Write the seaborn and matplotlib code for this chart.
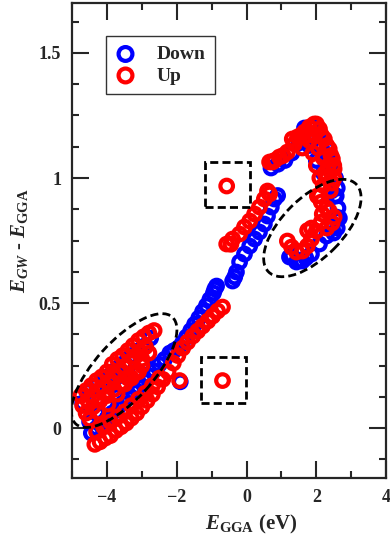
import numpy as np
import pandas as pd
import matplotlib
matplotlib.use("Agg")
import matplotlib.pyplot as plt
import seaborn as sns
from matplotlib.patches import Rectangle, Ellipse
from matplotlib.transforms import ScaledTranslation
from matplotlib.ticker import MultipleLocator, FormatStrFormatter

# ---- data (eV) ----
down_x = [
    # lower band
    -4.45, -4.3, -4.15, -4.0, -3.85, -3.7, -3.55, -3.4, -3.25, -3.1, -2.95, -2.8,
    -2.65, -2.5, -2.35, -2.2, -2.08, -1.96, -1.9, -1.84, -1.72, -1.6, -1.49,
    -1.37, -1.26, -1.15, -1.05, -0.95, -0.91, -0.86,
    # upper cluster (lower left)
    -4.7, -4.5, -4.27, -3.98, -3.72, -3.5, -3.3, -3.1, -2.95,
    -4.5, -4.3, -4.1, -3.9, -3.7, -3.5, -3.3, -3.1, -2.9, -2.75,
    # middle line
    -0.4, -0.34, -0.29, -0.2, -0.06, 0.09, 0.23, 0.37, 0.51, 0.6, 0.71, 0.8, 0.89,
    # upper arc
    0.7, 0.9, 1.1, 1.3, 1.5, 1.66, 1.85, 1.95, 2.1, 2.3, 2.45, 2.55, 2.6, 2.55,
    1.8, 2.0, 2.2, 2.35, 2.15, 1.95,
    # hook
    1.23, 1.3, 1.43, 1.5, 1.6, 1.7, 1.86, 2.09, 2.29, 2.46, 2.57, 2.62, 2.57,
    2.43, 2.66, 2.6, 2.5,
]
down_y = [
    -0.02, 0.0, 0.02, 0.04, 0.06, 0.08, 0.1, 0.12, 0.145, 0.165, 0.19, 0.21,
    0.23, 0.255, 0.275, 0.3, 0.31, 0.32, 0.185, 0.34, 0.365, 0.39, 0.415,
    0.44, 0.466, 0.49, 0.515, 0.54, 0.556, 0.568,
    0.1, 0.025, 0.055, 0.088, 0.125, 0.165, 0.19, 0.22, 0.26,
    0.15, 0.17, 0.19, 0.21, 0.24, 0.26, 0.29, 0.31, 0.33, 0.36,
    0.588, 0.604, 0.624, 0.664, 0.696, 0.728, 0.756, 0.784, 0.816, 0.848, 0.884, 0.916, 0.93,
    1.04, 1.055, 1.07, 1.1, 1.14, 1.2, 1.2, 1.21, 1.18, 1.12, 1.06, 1.0, 0.96, 0.93,
    1.13, 1.07, 1.02, 1.04, 1.12, 1.16,
    0.684, 0.69, 0.664, 0.67, 0.668, 0.68, 0.696, 0.736, 0.768, 0.804, 0.844, 0.88, 0.928,
    0.948, 0.84, 0.8, 0.78,
]
up_x = [
    # lower band
    -4.35, -4.2, -4.05, -3.9, -3.75, -3.6, -3.45, -3.3, -3.15, -3.0, -2.85, -2.7,
    -2.55, -2.4, -2.25, -2.1, -1.97, -1.83, -1.69, -1.54, -1.4, -1.26, -1.11,
    -0.97, -0.83, -0.69, -1.92,
    -4.3, -4.1, -3.9, -3.7, -3.5, -3.3, -3.1, -2.9, -2.7, -2.5,
    # upper cluster (lower left)
    -4.75, -4.6, -4.45, -4.3, -4.15, -4.0, -3.85, -3.7, -3.55, -3.4, -3.25,
    -3.1, -2.95, -2.8, -2.65,
    -4.7, -4.55, -4.4, -4.25, -4.1, -3.95, -3.8, -3.65, -3.5, -3.35, -3.2, -3.05, -2.9,
    -4.6, -4.4, -4.2, -4.0, -3.8, -3.6, -3.4, -3.2, -3.0, -2.8,
    -4.49, -4.26, -3.97, -3.71, -3.49, -3.3, -3.1, -3.0,
    # middle line
    -0.57, -0.45, -0.4, -0.2, -0.06, 0.09, 0.23, 0.37, 0.51, 0.6, 0.66,
    # isolated points in the boxes
    -0.57, -0.69,
    # upper arc
    0.66, 0.74, 0.8, 0.94, 1.05, 1.17, 1.31, 1.37, 1.46, 1.55, 1.66, 1.8, 1.94,
    2.0, 2.09, 2.15, 2.23, 2.3, 2.37, 2.42, 2.46, 2.5, 2.51, 2.51, 2.45, 2.4,
    1.6, 1.75, 1.8, 1.9, 1.95, 2.0, 2.05, 2.1, 2.2, 2.2, 2.3, 2.35, 2.1, 2.25,
    # hook
    1.17, 1.29, 1.43, 1.6, 1.74, 1.86, 2.0, 2.14, 2.17, 2.03, 2.14, 2.29,
    2.37, 2.51, 2.45, 2.3, 1.75, 1.86,
]
up_y = [
    -0.065, -0.055, -0.04, -0.03, -0.01, 0.005, 0.02, 0.04, 0.06, 0.085, 0.11, 0.135,
    0.165, 0.195, 0.225, 0.26, 0.29, 0.32, 0.344, 0.368, 0.388, 0.408, 0.428,
    0.448, 0.468, 0.484, 0.19,
    -0.015, 0.005, 0.025, 0.045, 0.065, 0.09, 0.115, 0.14, 0.17, 0.2,
    0.13, 0.15, 0.17, 0.19, 0.205, 0.225, 0.255, 0.275, 0.29, 0.31, 0.33,
    0.35, 0.365, 0.38, 0.39,
    0.09, 0.11, 0.13, 0.15, 0.165, 0.185, 0.205, 0.225, 0.245, 0.265, 0.285, 0.305, 0.325,
    0.06, 0.085, 0.11, 0.13, 0.155, 0.18, 0.2, 0.22, 0.25, 0.3,
    0.036, 0.064, 0.096, 0.136, 0.176, 0.2, 0.225, 0.276,
    0.736, 0.735, 0.756, 0.776, 0.804, 0.828, 0.856, 0.884, 0.916, 0.948, 0.936,
    0.968, 0.19,
    1.064, 1.064, 1.07, 1.084, 1.09, 1.104, 1.156, 1.136, 1.164, 1.17, 1.184, 1.204, 1.216,
    1.216, 1.196, 1.17, 1.156, 1.13, 1.116, 1.09, 1.076, 1.05, 1.036, 1.0, 0.98, 0.95,
    1.12, 1.17, 1.15, 1.1, 1.17, 1.05, 1.12, 1.0, 0.97, 1.08, 1.0, 1.05, 0.93, 1.02,
    0.748, 0.724, 0.704, 0.708, 0.728, 0.756, 0.788, 0.824, 0.856, 0.928, 0.904, 0.88,
    0.868, 0.844, 0.82, 0.8, 0.79, 0.8,
]

sns.set_style("ticks")
plt.rcParams["font.family"] = ["Liberation Serif", "DejaVu Serif"]
plt.rcParams["font.weight"] = "bold"
plt.rcParams["mathtext.fontset"] = "custom"
plt.rcParams["mathtext.it"] = "Liberation Serif:italic:bold"
plt.rcParams["mathtext.rm"] = "Liberation Serif:bold"
plt.rcParams["mathtext.bf"] = "Liberation Serif:bold"

fig = plt.figure(figsize=(3.9, 5.39), dpi=100)
ax = fig.add_axes([0.185, 0.113, 0.805, 0.8815])

down = pd.DataFrame({"x": down_x, "y": down_y})
up = pd.DataFrame({"x": up_x, "y": up_y})
sns.scatterplot(data=down, x="x", y="y", ax=ax, s=82, facecolors="none",
                edgecolor="#0000ff", linewidth=3.0, label="Down", zorder=3)
sns.scatterplot(data=up, x="x", y="y", ax=ax, s=82, facecolors="none",
                edgecolor="#ff0000", linewidth=3.0, label="Up", zorder=4)

# dashed annotation boxes and ellipses
dash = (0, (2.9, 1.5))
for x0, y0, x1, y1 in [(-1.2, 0.884, 0.11, 1.064), (-1.31, 0.1, -0.03, 0.284)]:
    ax.add_patch(Rectangle((x0, y0), x1 - x0, y1 - y0, fill=False, ec="black",
                           lw=2.0, ls=dash, zorder=5))


def dashed_ellipse(cx, cy, w, h, angle):
    tr = fig.dpi_scale_trans + ScaledTranslation(cx, cy, ax.transData)
    ax.add_patch(Ellipse((0, 0), w, h, angle=angle, transform=tr, fill=False,
                         ec="black", lw=2.0, ls=dash, zorder=5))


dashed_ellipse(1.886, 0.8, 1.24, 0.60, 45)
dashed_ellipse(-3.51, 0.23, 1.44, 0.58, 48)

ax.set_xlim(-5, 4)
ax.set_ylim(-0.2, 1.7)
ax.xaxis.set_major_locator(MultipleLocator(2))
ax.xaxis.set_minor_locator(MultipleLocator(1))
ax.yaxis.set_major_locator(MultipleLocator(0.5))
ax.yaxis.set_minor_locator(MultipleLocator(0.125))
ax.yaxis.set_major_formatter(FormatStrFormatter("%g"))
ax.tick_params(which="both", direction="in", top=True, right=True, width=1.5,
               labelsize=13)
ax.tick_params(which="major", length=12, pad=8)
ax.tick_params(which="minor", length=5)
for sp in ax.spines.values():
    sp.set_linewidth(1.6)

ax.set_xlabel(r"$E_{\mathrm{GGA}}$ (eV)", fontsize=15, fontweight="bold",
              labelpad=5, x=0.57)
ax.set_ylabel(r"$E_{GW}$ - $E_{\mathrm{GGA}}$", fontsize=15, fontweight="bold",
              labelpad=6)

leg = ax.legend(loc="upper left", bbox_to_anchor=(0.108, 0.931), borderaxespad=0,
                fancybox=False, edgecolor="black", fontsize=14, handlelength=1.0,
                handletextpad=1.1, labelspacing=0.2, borderpad=0.5, markerscale=1.1)
leg.get_frame().set_linewidth(1.0)

fig.savefig("out.png", dpi=100)
